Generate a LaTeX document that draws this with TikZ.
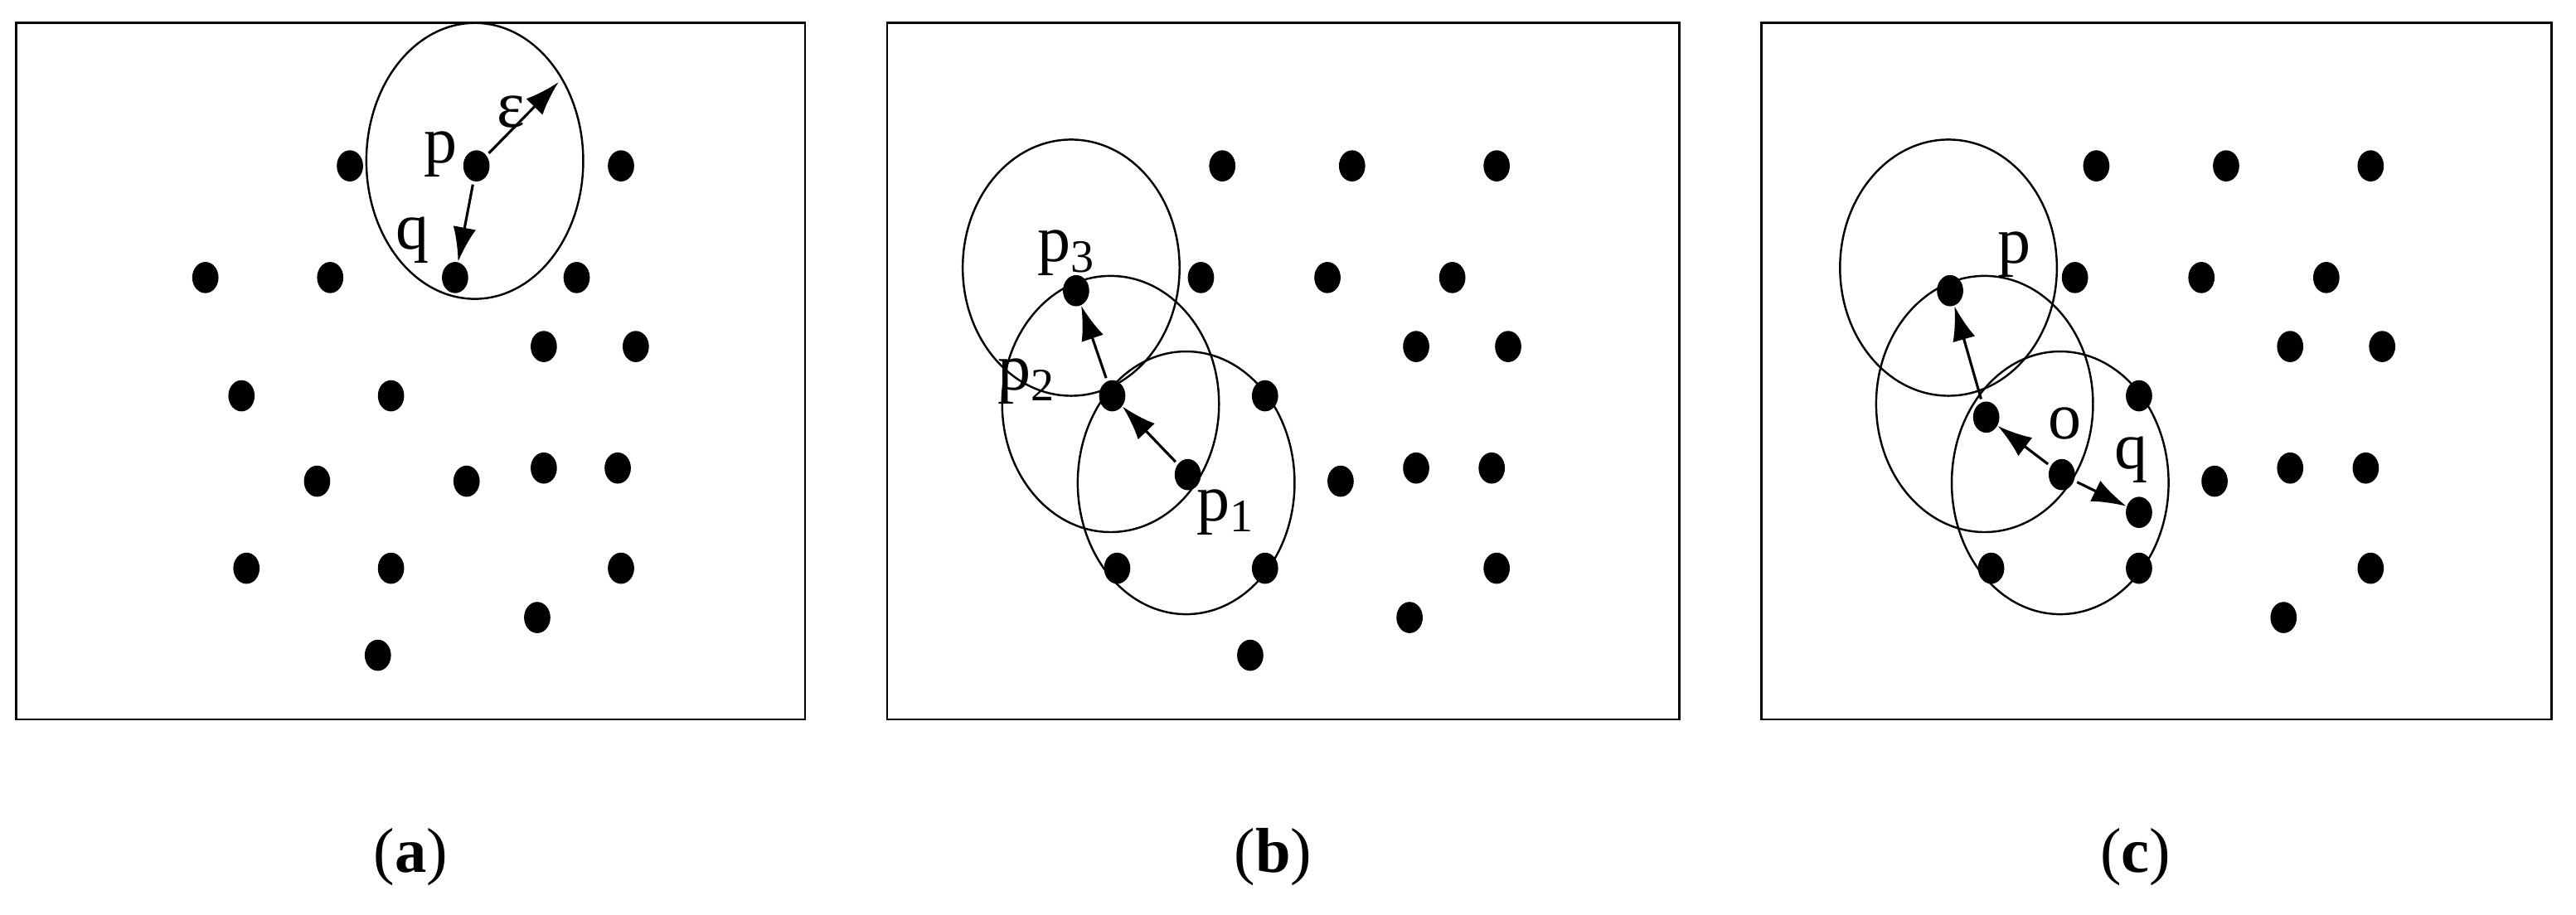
\documentclass[tikz,border=0pt]{standalone}
\usepackage{fontspec}
\setmainfont{Liberation Serif}
\usetikzlibrary{arrows.meta,shapes.geometric}
\tikzset{
  dot/.style={ellipse,fill=black,minimum width=0.32cm,minimum height=0.38cm,inner sep=0pt},
  nb/.style={draw,line width=0.7pt},
  arr/.style={-{Latex[length=0.42cm,width=0.28cm]},line width=0.9pt,shorten <=1pt},
  lab/.style={font=\fontsize{23}{25}\selectfont},
  caption/.style={font=\fontsize{22}{24}\selectfont}
}
\begin{document}
\begin{tikzpicture}[x=0.02cm,y=-0.02cm]
\useasboundingbox (0,0) rectangle (1568,557);
% frames
\draw[line width=0.8pt] (10,14) rectangle (490,438);
\draw[line width=0.8pt] (540,14) rectangle (1022,438);
\draw[line width=0.8pt] (1072,14) rectangle (1553,438);
% (a)
\foreach \x/\y in {213/101,378/101,125/169,201/169,351/169,331/211,387/211,147/241,238/241,193/293,284/293,331/285,376/285,150/346,238/346,378/346,327/376,230/399}
  \node[dot] at (\x,\y) {};
\node[dot] (ap) at (290,101) {};
\node[dot] (aq) at (277,169) {};
\draw[nb] (289,98) ellipse [x radius=66,y radius=84];
\coordinate (ae) at (340,50);
\draw[arr] (ap) -- (ae);
\draw[arr] (ap) -- (aq);
\node[lab] at (268,94) {p};
\node[lab] at (251,146) {q};
\node[lab] at (311,68) {ε};
% (b)
\foreach \x/\y in {744/101,823/101,911/101,731/169,808/169,884/169,862/211,918/211,770/241,816/293,862/285,908/285,680/346,770/346,911/346,858/376,761/399}
  \node[dot] at (\x,\y) {};
\node[dot] (bp3) at (655,177) {};
\node[dot] (bp2) at (677,241) {};
\node[dot] (bp1) at (723,289) {};
\draw[nb] (652,163) ellipse [x radius=66,y radius=78];
\draw[nb] (676,246) ellipse [x radius=66,y radius=78];
\draw[nb] (722,294) ellipse [x radius=66,y radius=80];
\draw[arr] (bp1) -- (bp2);
\draw[arr] (bp2) -- (bp3);
\node[lab] at (649,154) {p\textsubscript{3}};
\node[lab] at (625,232) {p\textsubscript{2}};
\node[lab] at (746,312) {p\textsubscript{1}};
% (c)
\foreach \x/\y in {1276/101,1355/101,1443/101,1263/169,1340/169,1416/169,1394/211,1450/211,1302/241,1348/293,1394/285,1440/285,1212/346,1302/346,1443/346,1390/376}
  \node[dot] at (\x,\y) {};
\node[dot] (cp) at (1187,177) {};
\node[dot] (cm) at (1209,254) {};
\node[dot] (co) at (1255,289) {};
\node[dot] (cq) at (1302,312) {};
\draw[nb] (1186,163) ellipse [x radius=66,y radius=78];
\draw[nb] (1208,246) ellipse [x radius=66,y radius=78];
\draw[nb] (1254,294) ellipse [x radius=66,y radius=80];
\draw[arr] (cm) -- (cp);
\draw[arr] (co) -- (cm);
\draw[arr] (co) -- (cq);
\node[lab] at (1226,155) {p};
\node[lab] at (1257,258) {o};
\node[lab] at (1297,280) {q};
% captions
\node[caption] (capa) at (250,522) {(\textbf{a})};
\node[caption] (capb) at (775,522) {(\textbf{b})};
\node[caption] (capc) at (1300,522) {(\textbf{c})};
\end{tikzpicture}
\end{document}
